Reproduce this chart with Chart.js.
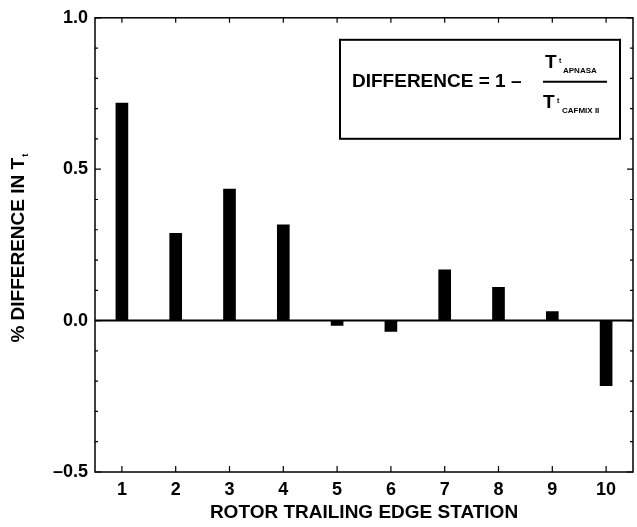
<!DOCTYPE html>
<html>
<head>
<meta charset="utf-8">
<script src="https://cdn.jsdelivr.net/npm/chart.js@4"></script>
<style>
  body { margin: 0; background: #fff; }
  #wrap { width: 637px; height: 527px; }
</style>
</head>
<body>
<div id="wrap"><canvas id="chart" width="637" height="527"></canvas></div>
<script>
// rotor trailing edge stations and the relative Tt difference at each
const stations = ['1', '2', '3', '4', '5', '6', '7', '8', '9', '10']
const diffValues = [0.718, 0.288, 0.434, 0.316, -0.016, -0.036, 0.168, 0.11, 0.03, -0.215]
const yMin = -0.5
const yMax = 1.0
const yMajorStep = 0.5

const FONT = '"Liberation Sans", Arial, sans-serif'

// inward ticks, frame, zero line, axis titles and the formula box
const framePlugin = {
  id: 'frame',
  afterDraw(chart) {
    const { ctx, chartArea: a, scales } = chart
    const x = scales.x
    const y = scales.y
    ctx.save()
    ctx.strokeStyle = '#000'
    ctx.fillStyle = '#000'

    ctx.lineWidth = 1.5
    ctx.strokeRect(a.left, a.top, a.right - a.left, a.bottom - a.top)

    // zero line
    ctx.lineWidth = 2
    const y0 = y.getPixelForValue(0)
    ctx.beginPath()
    ctx.moveTo(a.left, y0)
    ctx.lineTo(a.right, y0)
    ctx.stroke()

    // y ticks every 0.1, longer on the labelled ones
    ctx.lineWidth = 1.2
    for (let i = -5; i <= 10; i++) {
      const py = y.getPixelForValue(i / 10)
      const len = i % 5 === 0 ? 6 : 3
      ctx.beginPath()
      ctx.moveTo(a.left, py); ctx.lineTo(a.left + len, py)
      ctx.moveTo(a.right, py); ctx.lineTo(a.right - len, py)
      ctx.stroke()
    }
    // x ticks on bottom and top
    stations.forEach((s, i) => {
      const px = x.getPixelForValue(i)
      ctx.beginPath()
      ctx.moveTo(px, a.bottom); ctx.lineTo(px, a.bottom - 6)
      ctx.moveTo(px, a.top); ctx.lineTo(px, a.top + 5)
      ctx.stroke()
    })

    // x title
    ctx.font = 'bold 19px ' + FONT
    ctx.textAlign = 'center'
    ctx.textBaseline = 'middle'
    ctx.fillText('ROTOR TRAILING EDGE STATION', (a.left + a.right) / 2, 513)

    // y title with subscript t, reading upward from the zero level
    ctx.save()
    ctx.translate(17, y0 + 22)
    ctx.rotate(-Math.PI / 2)
    ctx.textAlign = 'left'
    ctx.textBaseline = 'alphabetic'
    const main = '% DIFFERENCE IN T'
    ctx.font = 'bold 19px ' + FONT
    const w = ctx.measureText(main).width
    ctx.fillText(main, 0, 7)
    ctx.font = 'bold 9px ' + FONT
    ctx.fillText('t', w + 1, 11)
    ctx.restore()

    // formula box
    const bx = a.right - 293
    const by = a.top + 22
    ctx.lineWidth = 2
    ctx.strokeRect(bx, by, 280, 99)
    ctx.textAlign = 'left'
    ctx.textBaseline = 'alphabetic'
    ctx.font = 'bold 19px ' + FONT
    ctx.fillText('DIFFERENCE = 1 \u2013', bx + 12, by + 47)
    ctx.beginPath()
    ctx.moveTo(bx + 203, by + 42)
    ctx.lineTo(bx + 267, by + 42)
    ctx.stroke()
    ctx.font = 'bold 19px ' + FONT
    ctx.fillText('T', bx + 205, by + 28)
    ctx.fillText('T', bx + 203, by + 68)
    ctx.font = 'bold 7px ' + FONT
    ctx.fillText('t', bx + 219, by + 23)
    ctx.fillText('t', bx + 217, by + 63)
    ctx.font = 'bold 8px ' + FONT
    ctx.fillText('APNASA', bx + 223, by + 33)
    ctx.fillText('CAFMIX II', bx + 222, by + 73)

    ctx.restore()
  },
}

new Chart(document.getElementById('chart'), {
  type: 'bar',
  data: {
    labels: stations,
    datasets: [
      {
        data: diffValues,
        backgroundColor: '#000',
        borderWidth: 0,
        barThickness: 12,
      },
    ],
  },
  options: {
    responsive: false,
    animation: false,
    layout: { padding: { top: 17, right: 4, left: 0, bottom: 0 } },
    plugins: {
      legend: { display: false },
      tooltip: { enabled: false },
    },
    scales: {
      x: {
        grid: { display: false, drawTicks: false },
        border: { display: false },
        ticks: {
          color: '#000',
          font: { family: FONT, size: 18, weight: 'bold' },
          padding: 7,
          maxRotation: 0,
        },
        afterFit: scale => { scale.height = 55 },
      },
      y: {
        min: yMin,
        max: yMax,
        grid: { display: false, drawTicks: false },
        border: { display: false },
        ticks: {
          stepSize: yMajorStep,
          color: '#000',
          font: { family: FONT, size: 18, weight: 'bold' },
          padding: 7,
          callback: v => (v < 0 ? '\u2013' : '') + Math.abs(v).toFixed(1),
        },
        afterFit: scale => { scale.width = 95 },
      },
    },
  },
  plugins: [framePlugin],
})
</script>
</body>
</html>
